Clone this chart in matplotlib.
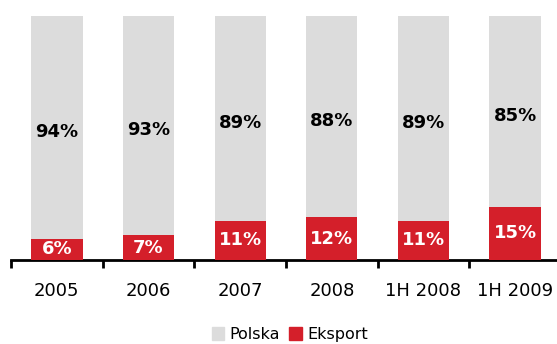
import matplotlib.pyplot as plt
import numpy as np

categories = ['2005', '2006', '2007', '2008', '1H 2008', '1H 2009']
polska = [94, 93, 89, 88, 89, 85]
eksport = [6, 7, 11, 12, 11, 15]

grey = '#dcdcdc'
red = '#d41f2a'

plt.rcParams['font.family'] = 'DejaVu Sans'

fig = plt.figure(figsize=(5.57, 3.44), dpi=100)
ax = fig.add_axes([11 / 557, 84 / 344, 550 / 557, 244 / 344])
x = np.arange(len(categories))
w = 0.56

# grey background column = whole market
total = np.array(polska) + np.array(eksport)
ax.bar(x, total, width=w, color=grey, zorder=1)
ax.set_ylim(0, 100)
ax.set_xlim(-0.5, len(categories) - 0.5)

# export share is drawn on its own scale, as in the source chart
ax2 = ax.twinx()
red_top = 68.5
ax2.set_ylim(0, red_top)
ax2.bar(x, eksport, width=w, color=red, zorder=2)
ax2.axis('off')

for i in range(len(categories)):
    ax2.text(x[i], eksport[i] / 2, f'{eksport[i]}%', ha='center', va='center',
             color='white', fontsize=13, fontweight='bold')
    ax2.text(x[i], (red_top + eksport[i]) / 2 - 1.2, f'{polska[i]}%', ha='center',
             va='center', color='black', fontsize=13, fontweight='bold')

for s in ['top', 'right', 'left']:
    ax.spines[s].set_visible(False)
ax.spines['bottom'].set_linewidth(2)
ax.set_yticks([])
ax.set_xticks(np.arange(len(categories) + 1) - 0.5, minor=True)
ax.set_xticks(x)
ax.set_xticklabels(categories, fontsize=13)
ax.tick_params(axis='x', which='major', length=0, pad=16)
ax.tick_params(axis='x', which='minor', length=6, width=2, direction='out')

handles = [plt.Rectangle((0, 0), 1, 1, color=grey),
           plt.Rectangle((0, 0), 1, 1, color=red)]
fig.legend(handles, ['Polska', 'Eksport'], loc='lower center', ncol=2,
           bbox_to_anchor=(0.52, -0.036), frameon=False, fontsize=11.5,
           handlelength=0.8, handleheight=0.8, handletextpad=0.3,
           columnspacing=0.6)

fig.savefig('out.png', dpi=100)
